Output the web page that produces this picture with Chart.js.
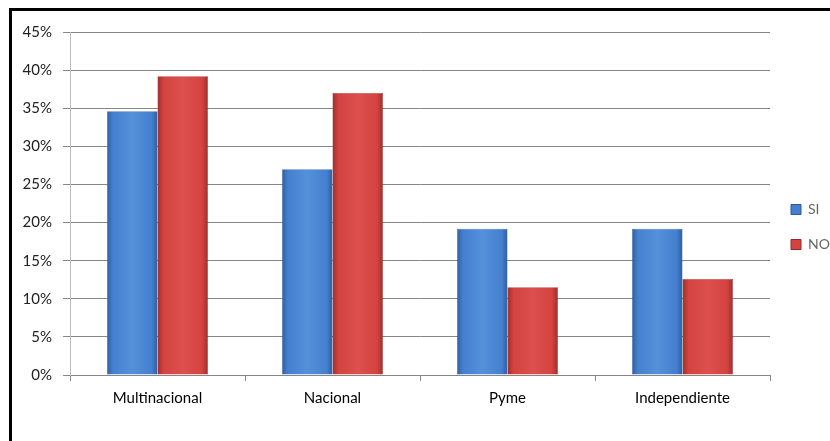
<!DOCTYPE html>
<html>
<head>
<meta charset="utf-8">
<script src="https://cdn.jsdelivr.net/npm/chart.js@4.4.0/dist/chart.umd.min.js"></script>
<style>
  html, body { margin: 0; padding: 0; background: #fff; overflow: hidden; }
  #frame { position: absolute; left: 9px; top: 8px; width: 900px; height: 500px; border: 3px solid #000; box-sizing: border-box; }
  #wrap { position: absolute; left: 0; top: 0; width: 830px; height: 441px; }
</style>
</head>
<body>
<div id="frame"></div>
<div id="wrap"><canvas id="c" width="830" height="441"></canvas></div>
<script>
const categories = ['Multinacional', 'Nacional', 'Pyme', 'Independiente'];
const seriesNames = ['SI', 'NO'];
const siValues = [34.6, 27.0, 19.2, 19.2];
const noValues = [39.2, 37.0, 11.5, 12.6];
const yTicks = [0, 5, 10, 15, 20, 25, 30, 35, 40, 45];

const CAT_PCT = 0.577;
const palettes = [
  { edge: '#2f5f9f', mid: '#4580d0', light: '#5590da', border: '#2d5a94' },
  { edge: '#9e2f2d', mid: '#d44340', light: '#dc504d', border: '#8f2a28' }
];

function barFill(c) {
  const p = palettes[c.datasetIndex];
  const chart = c.chart;
  const x = chart.scales && chart.scales.x;
  if (!x || x.right == null || c.dataIndex == null) return p.mid;
  const n = categories.length;
  const catW = (x.right - x.left) / n;
  const pairW = catW * CAT_PCT;
  const barW = pairW / 2;
  const center = x.getPixelForValue(c.dataIndex);
  const left = center - pairW / 2 + c.datasetIndex * barW;
  const g = chart.ctx.createLinearGradient(left, 0, left + barW, 0);
  g.addColorStop(0, p.edge);
  g.addColorStop(0.12, p.mid);
  g.addColorStop(0.5, p.light);
  g.addColorStop(0.88, p.mid);
  g.addColorStop(1, p.edge);
  return g;
}

const font = { family: 'Lato, "Liberation Sans", sans-serif', size: 15 };
const legendFont = { family: 'Lato, "Liberation Sans", sans-serif', size: 14 };

const chart = new Chart(document.getElementById('c'), {
  type: 'bar',
  data: {
    labels: categories,
    datasets: [
      { label: seriesNames[0], data: siValues, backgroundColor: barFill, borderColor: palettes[0].border, borderWidth: 0.5, categoryPercentage: CAT_PCT, barPercentage: 1 },
      { label: seriesNames[1], data: noValues, backgroundColor: barFill, borderColor: palettes[1].border, borderWidth: 0.5, categoryPercentage: CAT_PCT, barPercentage: 1 }
    ]
  },
  options: {
    responsive: false,
    animation: false,
    layout: { padding: { left: 0, right: 0, top: 32, bottom: 0 } },
    plugins: {
      tooltip: { enabled: false },
      legend: {
        position: 'right',
        fullSize: false,
        maxWidth: 60,
        title: { display: true, text: '', padding: 16.3, font: { size: 12 } },
        labels: {
          boxWidth: 10,
          boxHeight: 10,
          padding: 21,
          color: '#000',
          font: legendFont,
          generateLabels: (ch) => ch.data.datasets.map((ds, i) => ({
            text: ds.label,
            fillStyle: palettes[i].mid,
            strokeStyle: palettes[i].border,
            lineWidth: 1,
            datasetIndex: i,
            hidden: false
          }))
        }
      }
    },
    scales: {
      x: {
        afterFit: (s) => { s.height = 66; },
        grid: { drawOnChartArea: false, drawTicks: true, tickLength: 6, color: '#888888', offset: true },
        border: { color: '#868686', width: 1 },
        ticks: { color: '#000', font: font, padding: 8, maxRotation: 0 }
      },
      y: {
        min: 0,
        max: 45,
        afterFit: (s) => { s.width = 70; },
        afterBuildTicks: (s) => { s.ticks = yTicks.map(v => ({ value: v })); },
        grid: { color: '#868686', lineWidth: 1, tickLength: 7 },
        border: { color: '#bdbdbd', width: 1 },
        ticks: { color: '#222', font: font, padding: 11, callback: (v) => v + '%' }
      }
    }
  }
});
chart.update('none');
</script>
</body>
</html>
